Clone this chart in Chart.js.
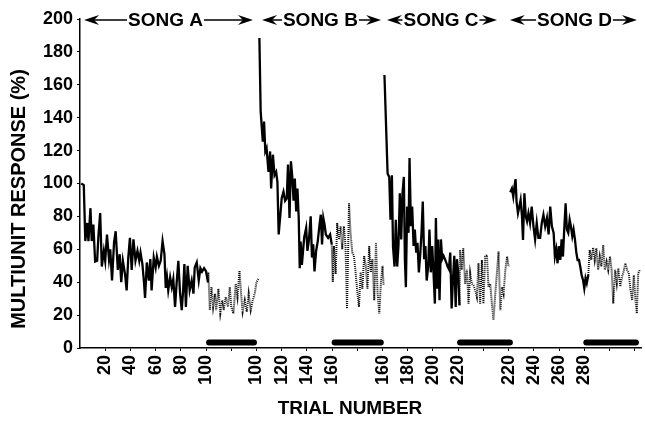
<!DOCTYPE html>
<html><head><meta charset="utf-8">
<script src="https://cdn.jsdelivr.net/npm/chart.js@4.4.0/dist/chart.umd.min.js"></script>
<style>html,body{margin:0;padding:0;background:#fff;}canvas{display:block;}</style>
</head><body>
<canvas id="c" width="645" height="421"></canvas>
<script>
// ---- DATA (x = running trial position, y = multiunit response %) ----
const songA_solid = [[1,100],[3,99],[4.2,65],[5.7,76],[6.7,65],[8.3,85],[9.3,65],[10.6,75],[12,52.5],[13.6,53],[14.6,68],[16,82],[17.3,49.5],[18.9,59],[20,53],[21.4,69],[23,54],[24,60],[25.4,41],[27,64],[28.3,71],[30,47.5],[31.5,57],[32.7,40],[34,53],[35.8,44.5],[37,35],[38.3,55],[39.6,67],[41,47.5],[42.4,66],[44,53],[45.6,59],[47,53],[48,58],[49.5,51],[50.8,39.5],[51.6,30.4],[53,52],[54.6,41],[55.8,54],[56.8,35],[58.5,55],[60,49],[61,55.5],[62.6,50],[64,53],[65.5,65],[67,57],[68,36.5],[69,43],[70,35],[71.5,43],[72.8,37],[74,42],[75.4,25],[76.7,40],[78,53],[79.4,33],[80.7,23],[81.8,35],[82.8,51],[84,25],[85.4,50],[87,35],[88.6,41],[90,33],[91,49],[92.6,52],[94.2,41],[95.5,48.5],[96.8,46.5],[98.4,48.5],[100,46.5],[101.5,40]];
const songA_dotted = [[101.5,40],[101.8,46],[103,23],[104.3,37],[105.6,25],[107,33],[108,23],[109.8,36],[111.3,21],[112.9,29],[114,23],[115.6,31],[117.4,25],[118.8,37],[120,25],[121.7,21],[123.5,39],[124.9,31],[126.5,47],[127.8,33],[129,22],[130.7,29],[132.3,22],[133.8,33],[135.4,23],[137,29],[138.6,33],[140,40],[141.4,42]];
const songB_solid = [[142.3,188.5],[143.3,144],[145,125.5],[146,137.7],[147,119.5],[148,121.5],[149.5,107],[150.8,119.5],[151.6,97],[153,117.5],[154.3,105],[155.6,107],[156.6,101],[157.6,69],[158.7,79],[160,91],[161.4,95],[162.7,89.5],[164,91],[165,111.5],[166.2,79],[167.3,113.5],[168.3,105],[169.4,89.5],[170.4,103],[171.5,83],[172.5,97],[173.5,79],[174.3,48.5],[175,64.7],[176,50.5],[177.8,67],[179.4,73],[180.4,59],[181.5,65],[183,80],[184,55],[185,63],[186,46.5],[187.3,59],[188.6,65],[190,75],[191,81],[192,63],[193,79],[194,75],[195,69],[196.8,67],[198.4,69],[199.7,63]];
const songB_dotted = [[199.7,63],[200.5,40],[201.4,62],[202.8,45],[204,76],[205.4,66],[206.7,74],[208,60],[209.3,74],[210.6,62],[211.8,24],[213.4,88],[214.6,70],[216,58],[217.3,56],[218.6,46],[220,34],[221.3,25],[222.6,46],[224,36],[225.4,56],[226.7,50],[228,36],[229.4,62],[230.7,46],[232,54],[233.4,29],[234.8,64],[236,34],[237.4,21],[238.8,41],[240,50],[240.8,38]];
const songC_solid = [[241.5,166],[244,106],[245.3,104],[246.3,78],[247.4,105],[248.3,61.6],[249.5,49.5],[250.5,78],[251.6,49.5],[252.6,62],[253.7,94],[254.8,66],[255.8,94],[256.9,104],[257.7,54],[258.5,37],[259.5,86],[260.6,70],[261.4,115.5],[262.5,74],[263.5,86],[264.6,62],[265.6,72],[266.7,58],[267.7,64],[268.8,46],[269.8,56],[270.9,70],[271.9,89],[273,54],[274,62],[275,41],[276.2,49.5],[277.2,72],[278.3,46],[279.4,62],[280.4,46],[281.5,27],[282.3,79],[283.4,36],[284.1,66],[285.2,29],[286.3,66],[287.3,54],[288.4,56],[289.5,54],[290.5,52],[291.6,49.5],[292.6,48],[293.7,58],[294.8,24],[295.8,41],[296.9,56],[298,25],[299,54],[300,46],[301,26]];
const songC_dotted = [[301,26],[301.5,59.6],[302.8,47.5],[304,60.6],[305.5,39],[306.9,47.5],[308.2,27],[309.5,45.6],[310.8,39],[312.2,38],[313.5,35],[314.8,31],[316.1,51.5],[317.4,27],[318.8,53.5],[320,27],[321.4,55.6],[322.8,56.6],[324,37],[325.4,39],[326.7,27],[328,17],[329.4,33],[330.7,45.6],[332,58.6],[333.4,23],[334.8,37],[336,33],[337.4,47.5],[338.8,55.6],[340,49.5]];
const songD_solid = [[341.3,94.7],[342.6,97],[343.7,92],[344.8,99],[345.5,102.7],[346.3,89],[347.4,82],[348.5,86],[349.5,90],[350.6,80],[351.4,65.7],[352.5,94],[353.6,80],[354.6,77],[355.7,82],[357,76],[358.3,86],[359.7,74],[361,66],[362.3,76],[363.6,67],[365,67],[366.3,76],[367.6,81],[369,74],[370.4,79],[371.7,69],[373,86],[374.3,74],[375.7,70],[376.7,55.6],[377.8,60],[378.8,51.5],[379.9,62],[381,53.5],[382,66],[383.1,55.6],[384.1,72],[385.2,88],[386.2,72],[387.3,70],[388.4,78],[389.4,74],[390.5,68],[391.5,72],[392.6,66],[393.7,58],[394.7,53.5],[395.8,53.5],[396.8,49.5],[397.9,44.4],[399,41.4],[400,36.3],[401,42.4],[402,39.4],[403.2,44.4]];
const songD_dotted = [[403.2,44.4],[404.3,59.6],[405.6,53.5],[407,61],[408.3,53.5],[409.6,60.6],[411,47.5],[412.3,55.6],[413.6,49.5],[415,62.6],[416.3,47.5],[417.7,52.5],[419,47.5],[420.4,55.6],[421.7,47.5],[423,27],[424.5,47.5],[425.8,39.4],[427,48.5],[428.6,37.4],[430,43.4],[431.2,46.5],[432.6,51.5],[434,47.5],[435.3,45.5],[436.6,35.5],[438,29],[439.3,44.4],[440.6,29],[441.7,21],[442.8,45.5],[444,47.5]];
// stimulus bars (start, end in running trial position) and their level
const stimStart = [102.4, 202, 301.5, 401.6];
const stimEnd   = [138, 238.6, 341, 441];
const stimLevel = 3.3;
// x tick positions and labels
const xTickValues = [20,40,60,80,100,120,140,160,180,200,220,240,260,280,300,320,340,360,380,400,420,440];
const xTickLabels = ['20','40','60','80','100','','100','120','140','160','','160','180','200','220','','220','240','260','280','',''];
const yTicks = [0,20,40,60,80,100,120,140,160,180,200];
const songNames = ['SONG A','SONG B','SONG C','SONG D'];
const xTitle = 'TRIAL NUMBER';
const yTitle = 'MULTIUNIT RESPONSE (%)';

// ---- CHART ----
const FONT = '"Liberation Sans", Arial, Helvetica, sans-serif';
const toXY = a => a.map(p => ({x: p[0], y: p[1]}));
const solid = d => ({data: toXY(d), borderColor: '#000', borderWidth: 2.3, pointRadius: 0, tension: 0, fill: false});
const dotted = d => ({data: toXY(d), borderColor: '#111', borderWidth: 2, borderDash: [1, 1], pointRadius: 0, tension: 0, fill: false});
const datasets = [
  solid(songA_solid), dotted(songA_dotted),
  solid(songB_solid), dotted(songB_dotted),
  solid(songC_solid), dotted(songC_dotted),
  solid(songD_solid), dotted(songD_dotted)
];
stimStart.forEach((s, i) => datasets.push({
  data: [{x: s, y: stimLevel}, {x: stimEnd[i], y: stimLevel}],
  borderColor: '#000', borderWidth: 6, borderCapStyle: 'round', pointRadius: 0, fill: false
}));

// geometry of the song headers (in x-axis units)
const headerGeom = [
  {center: 67.8, leftTip: 3.2, rightTip: 137.2},
  {center: 190.7, leftTip: 144.4, rightTip: 238.8},
  {center: 286.3, leftTip: 243.5, rightTip: 330.8},
  {center: 392.2, leftTip: 341.0, rightTip: 441.8}
];

function arrowHead(ctx, tip, y, dir) {
  ctx.beginPath();
  ctx.moveTo(tip, y);
  ctx.lineTo(tip - dir * 15, y - 5);
  ctx.lineTo(tip - dir * 10, y);
  ctx.lineTo(tip - dir * 15, y + 5);
  ctx.closePath();
  ctx.fill();
}

const annotations = {
  id: 'annotations',
  afterDraw(chart) {
    const ctx = chart.ctx, xs = chart.scales.x;
    ctx.save();
    ctx.fillStyle = '#000';
    ctx.strokeStyle = '#000';
    ctx.font = 'bold 19px ' + FONT;
    ctx.textBaseline = 'middle';
    ctx.textAlign = 'center';
    const y = 20;
    songNames.forEach((name, i) => {
      const g = headerGeom[i];
      const cx = xs.getPixelForValue(g.center);
      const w = ctx.measureText(name).width;
      ctx.fillText(name, cx, y + 1);
      const lt = xs.getPixelForValue(g.leftTip), rt = xs.getPixelForValue(g.rightTip);
      ctx.lineWidth = 1.5;
      ctx.beginPath();
      ctx.moveTo(cx - w / 2 - 1, y); ctx.lineTo(lt + 10, y);
      ctx.moveTo(cx + w / 2 + 1, y); ctx.lineTo(rt - 10, y);
      ctx.stroke();
      arrowHead(ctx, lt, y, -1);
      arrowHead(ctx, rt, y, 1);
    });
    ctx.font = 'bold 19px ' + FONT;
    ctx.fillText(xTitle, 350, 409);
    ctx.font = 'bold 20px ' + FONT;
    ctx.translate(19, 199);
    ctx.rotate(-Math.PI / 2);
    ctx.fillText(yTitle, 0, 0);
    ctx.restore();
  }
};

new Chart(document.getElementById('c'), {
  type: 'line',
  data: {datasets},
  options: {
    responsive: false,
    animation: false,
    devicePixelRatio: 1,
    layout: {padding: {top: 19, right: 4, left: 0, bottom: 0}},
    plugins: {legend: {display: false}, tooltip: {enabled: false}},
    scales: {
      x: {
        type: 'linear', min: 0, max: 445,
        afterBuildTicks: s => { s.ticks = xTickValues.map(v => ({value: v})); },
        afterFit: s => { s.height = 73; s.paddingLeft = 0; s.paddingRight = 0; },
        grid: {display: true, drawOnChartArea: false, drawTicks: true, tickLength: 3, color: '#000', lineWidth: 1},
        border: {display: true, color: '#000', width: 1.5},
        ticks: {
          autoSkip: false, maxRotation: 90, minRotation: 90, padding: 4, color: '#000',
          font: {family: FONT, size: 18, weight: 'bold'},
          callback: (v) => { const i = xTickValues.indexOf(v); return i >= 0 ? xTickLabels[i] : ''; }
        }
      },
      y: {
        type: 'linear', min: 0, max: 200,
        afterBuildTicks: s => { s.ticks = yTicks.map(v => ({value: v})); },
        afterFit: s => { s.width = 80; s.paddingTop = 0; s.paddingBottom = 0; },
        grid: {display: true, drawOnChartArea: false, drawTicks: true, tickLength: 3, color: '#000', lineWidth: 1},
        border: {display: true, color: '#000', width: 1.5},
        ticks: {padding: 4, color: '#000', font: {family: FONT, size: 18, weight: 'bold'}}
      }
    }
  },
  plugins: [annotations]
});
</script>
</body></html>
